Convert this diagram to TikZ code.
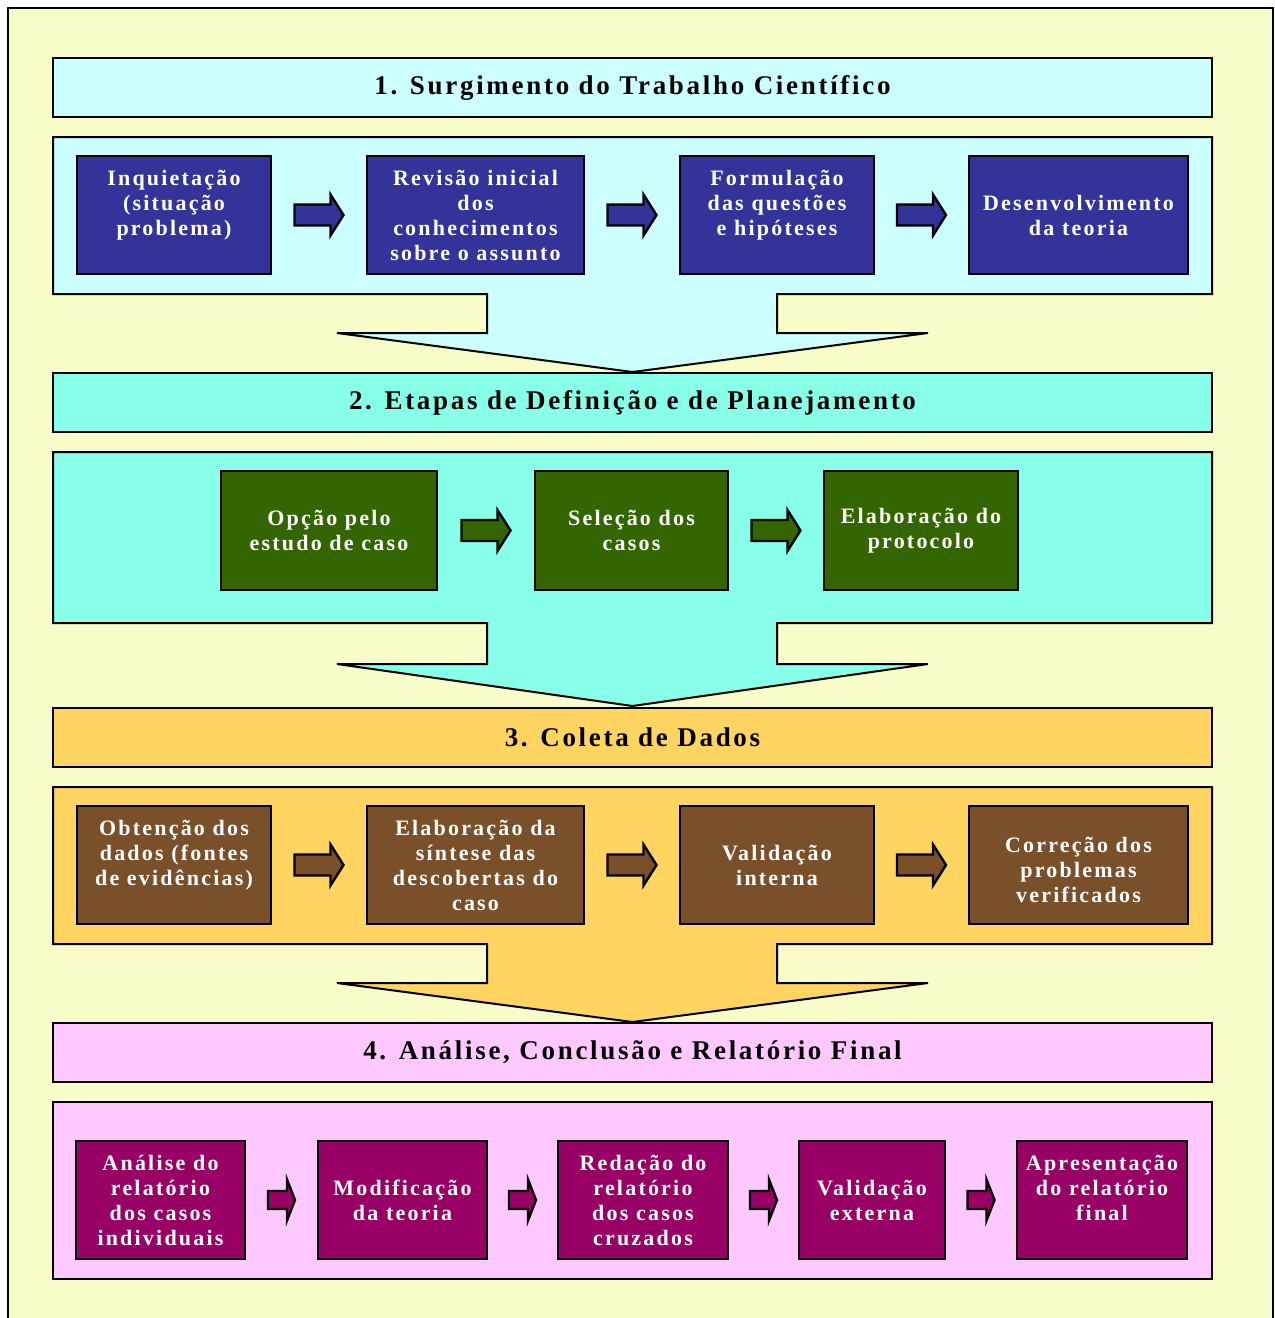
\documentclass[tikz,border=0pt]{standalone}
\usepackage{fontspec}
\setmainfont{Liberation Serif}
\newfontfamily\flowfont[LetterSpace=10]{Liberation Serif}
\usetikzlibrary{calc}

\definecolor{pagebg}{RGB}{247,252,200}
\definecolor{stageone}{RGB}{204,255,255}
\definecolor{stagetwo}{RGB}{136,255,232}
\definecolor{stagethree}{RGB}{255,212,96}
\definecolor{stagefour}{RGB}{255,200,255}
\definecolor{boxone}{RGB}{51,51,153}
\definecolor{boxtwo}{RGB}{51,102,0}
\definecolor{boxthree}{RGB}{122,80,42}
\definecolor{boxfour}{RGB}{153,0,102}

\tikzset{
  pics/fatarrow/.style n args={4}{code={
    \filldraw[fill=#1, draw=black, line width=1.2pt, line join=miter]
      (-#2/2,-#4) -- (#2/2-#3,-#4) -- (#2/2-#3,-20.5) -- (#2/2,0)
      -- (#2/2-#3,20.5) -- (#2/2-#3,#4) -- (-#2/2,#4) -- cycle;
  }}
}

\begin{document}
\begin{tikzpicture}[x=0.5pt,y=-0.5pt]
\tikzstyle{header}=[draw=black, line width=1pt, minimum width=579.5pt, minimum height=29.5pt, inner sep=0pt, font=\flowfont\bfseries\fontsize{13.5}{15}\selectfont]
\tikzstyle{stepbox}=[draw=black, line width=1pt, minimum height=59pt, inner sep=0pt, align=center, text=white, font=\flowfont\bfseries\fontsize{11}{12.5}\selectfont]
\tikzstyle{panel}=[draw=black, line width=1pt, line join=miter]

\useasboundingbox (0,0) rectangle (1275,1318);
\fill[pagebg] (8,8) rectangle (1273,1318);
\draw[line width=1pt] (8,1318) -- (8,8) -- (1273,8) -- (1273,1318);

% panels, each with the big arrow down to the next stage
\foreach \ytop/\ybot/\ystem/\ytip/\col in {137/294/333/372/stageone, 452/623/664/706/stagetwo, 787/944/983/1022/stagethree}{
  \filldraw[panel, fill=\col] (53,\ytop) -- (1212,\ytop) -- (1212,\ybot) -- (777,\ybot)
    -- (777,\ystem) -- (928,\ystem) -- (632.5,\ytip) -- (337,\ystem)
    -- (487,\ystem) -- (487,\ybot) -- (53,\ybot) -- cycle;
}
\filldraw[panel, fill=stagefour] (53,1102) rectangle (1212,1279);

% stage titles
\node[header, fill=stageone] (h1) at (632.5,87.5) {1. Surgimento do Trabalho Científico};
\node[header, fill=stagetwo] (h2) at (632.5,402.5) {2. Etapas de Definição e de Planejamento};
\node[header, fill=stagethree] (h3) at (632.5,737.5) {3. Coleta de Dados};
\node[header, fill=stagefour] (h4) at (632.5,1052.5) {4. Análise, Conclusão e Relatório Final};

% stage 1
\node[stepbox, fill=boxone, minimum width=97pt] (a1) at (174,215) {Inquietação\\(situação\\problema)\\~};
\node[stepbox, fill=boxone, minimum width=108.5pt] (a2) at (475.5,215) {Revisão inicial\\dos\\conhecimentos\\sobre o assunto};
\node[stepbox, fill=boxone, minimum width=97pt] (a3) at (777,215) {Formulação\\das questões\\e hipóteses\\~};
\node[stepbox, fill=boxone, minimum width=109.5pt] (a4) at (1078.5,215) {Desenvolvimento\\da teoria};
\foreach \p/\q in {a1/a2, a2/a3, a3/a4}
  \path ($(\p.east)!0.5!(\q.west)$) pic {fatarrow={boxone}{49}{13}{10.5}};

% stage 2
\node[stepbox, fill=boxtwo, minimum width=108pt, minimum height=59.5pt] (b1) at (329,530.5) {Opção pelo\\estudo de caso};
\node[stepbox, fill=boxtwo, minimum width=96.5pt, minimum height=59.5pt] (b2) at (631.5,530.5) {Seleção dos\\casos};
\node[stepbox, fill=boxtwo, minimum width=97pt, minimum height=59.5pt] (b3) at (921,530.5) {Elaboração do\\protocolo};
\foreach \p/\q in {b1/b2, b2/b3}
  \path ($(\p.east)!0.5!(\q.west)$) pic {fatarrow={boxtwo}{49}{13}{10.5}};

% stage 3
\node[stepbox, fill=boxthree, minimum width=97pt] (c1) at (174,865) {Obtenção dos\\dados (fontes\\de evidências)\\~};
\node[stepbox, fill=boxthree, minimum width=108.5pt] (c2) at (475.5,865) {Elaboração da\\síntese das\\descobertas do\\caso};
\node[stepbox, fill=boxthree, minimum width=97pt] (c3) at (777,865) {Validação\\interna};
\node[stepbox, fill=boxthree, minimum width=109.5pt] (c4) at (1078.5,865) {~\\Correção dos\\problemas\\verificados};
\foreach \p/\q in {c1/c2, c2/c3, c3/c4}
  \path ($(\p.east)!0.5!(\q.west)$) pic {fatarrow={boxthree}{49}{13}{10.5}};

% stage 4
\node[stepbox, fill=boxfour, minimum width=84.5pt] (d1) at (160.5,1200) {Análise do\\relatório\\dos casos\\individuais};
\node[stepbox, fill=boxfour, minimum width=84.5pt] (d2) at (402.5,1200) {Modificação\\da teoria};
\node[stepbox, fill=boxfour, minimum width=85pt] (d3) at (643,1200) {Redação do\\relatório\\dos casos\\cruzados};
\node[stepbox, fill=boxfour, minimum width=73pt] (d4) at (872,1200) {Validação\\externa};
\node[stepbox, fill=boxfour, minimum width=85pt] (d5) at (1102,1200) {Apresentação\\do relatório\\final\\~};
\foreach \p/\q in {d1/d2, d2/d3, d3/d4, d4/d5}
  \path ($(\p.east)!0.5!(\q.west)$) pic {fatarrow={boxfour}{27}{8}{9}};
\end{tikzpicture}
\end{document}
